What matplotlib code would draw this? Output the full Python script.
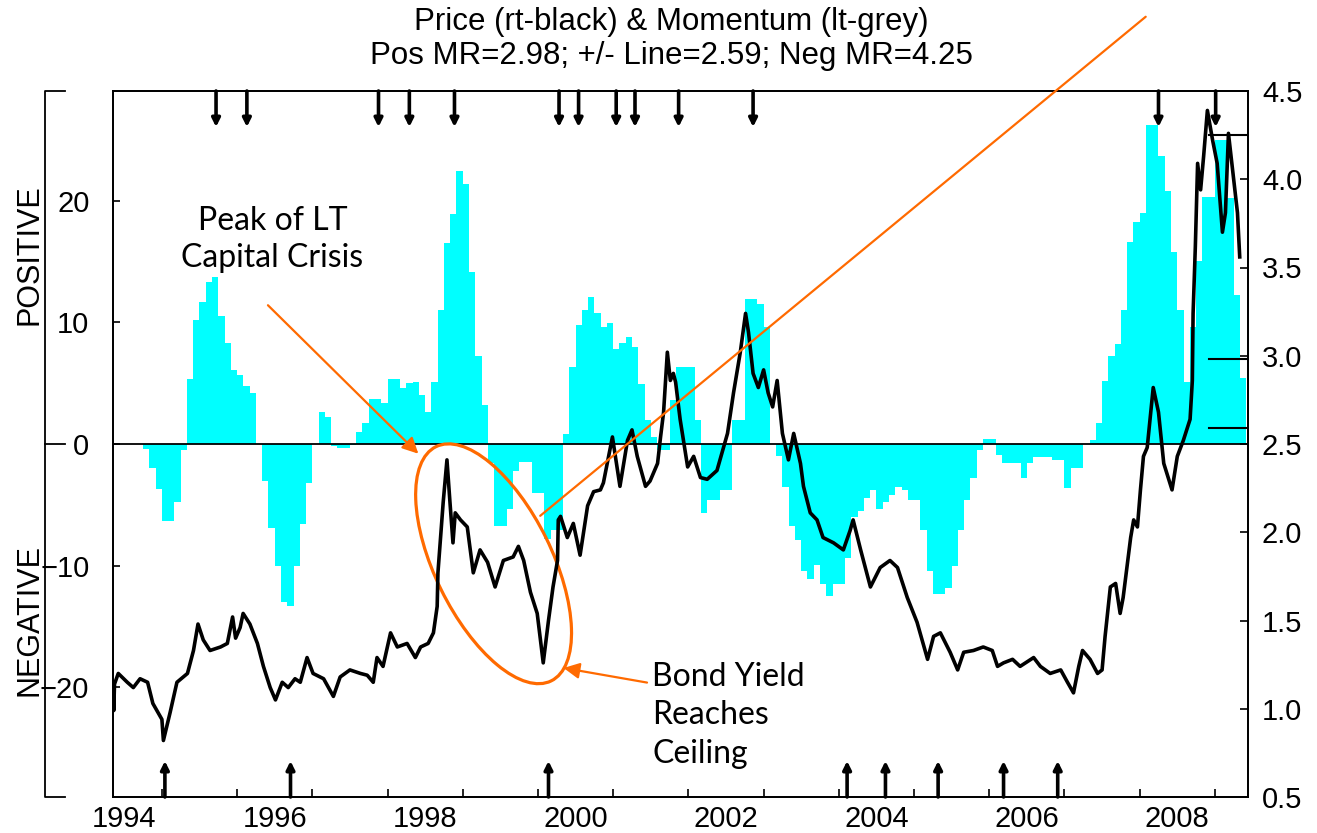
import numpy as np
import matplotlib
matplotlib.use("Agg")
import matplotlib.pyplot as plt
from matplotlib.patches import Ellipse
from matplotlib.transforms import ScaledTranslation, blended_transform_factory

# monthly momentum (left axis), first bar = May 1994
mom_1994 = [0, 0, 0, 0, 0, -0.4, -2.0, -3.7]
mom_1995 = [-6.3, -6.3, -4.8, -0.5, 5.3, 10.2, 11.7, 13.3, 13.7, 10.5, 8.3, 6.1]
mom_1996 = [5.7, 4.8, 4.2, 0, -3.0, -6.9, -10.0, -13.0, -13.3, -10.0, -6.6, -3.2]
mom_1997 = [0, 2.6, 2.2, -0.2, -0.3, -0.3, -0.1, 1.0, 1.7, 3.7, 3.7, 3.4]
mom_1998 = [5.3, 5.3, 4.6, 5.0, 5.1, 4.0, 2.6, 5.1, 11.0, 16.5, 18.9, 22.4]
mom_1999 = [21.4, 14.1, 7.2, 3.2, -1.6, -6.7, -6.7, -5.3, -2.2, -1.5, -1.5, -4.0]
mom_2000 = [-4.0, -7.8, -7.1, -7.1, 0.8, 6.3, 9.8, 11.0, 12.1, 10.8, 9.6, 9.9]
mom_2001 = [7.8, 8.3, 8.8, 8.0, 4.9, 2.0, 0.6, -0.5, -0.5, 3.6, 6.3, 6.3]
mom_2002 = [6.3, 2.0, -5.7, -4.6, -4.6, -3.8, -3.8, 2.0, 2.0, 11.9, 11.9, 11.5]
mom_2003 = [9.6, 0, -1.0, -3.5, -6.7, -7.9, -10.4, -11.1, -9.9, -11.5, -12.5, -11.5]
mom_2004 = [-11.5, -9.4, -6.0, -5.5, -4.4, -3.8, -5.3, -4.8, -4.2, -3.5, -3.8, -4.6]
mom_2005 = [-4.6, -7.1, -10.4, -12.3, -12.3, -11.8, -10.0, -7.1, -4.6, -2.8, -0.5, 0.4]
mom_2006 = [0.4, -0.9, -1.6, -1.6, -1.6, -2.8, -1.6, -1.1, -1.1, -1.1, -1.3, -1.3]
mom_2007 = [-3.6, -2.0, -2.0, 0, 0.3, 1.7, 5.2, 7.2, 8.2, 11.0, 16.6, 18.2]
mom_2008 = [19.0, 26.2, 26.2, 23.7, 20.8, 15.8, 11.0, 5.1, 9.6, 15.0, 20.3, 20.3]
mom_2009 = [25.0, 25.0, 20.2, 12.2, 5.4]

momentum = (mom_1994 + mom_1995 + mom_1996 + mom_1997 + mom_1998 + mom_1999
            + mom_2000 + mom_2001 + mom_2002 + mom_2003 + mom_2004 + mom_2005
            + mom_2006 + mom_2007 + mom_2008 + mom_2009)
month_x = 1994 + (4 + np.arange(len(momentum))) / 12.0

# price (right axis)
price_year = [
    1994.35, 1994.36, 1994.37, 1994.42, 1994.54, 1994.62, 1994.71, 1994.81, 1994.88, 1995.00,
    1995.02, 1995.11, 1995.20, 1995.34, 1995.42, 1995.48, 1995.55, 1995.64, 1995.78, 1995.87,
    1995.94, 1995.98, 1996.04, 1996.08, 1996.17, 1996.27, 1996.35, 1996.44, 1996.51, 1996.60,
    1996.68, 1996.77, 1996.84, 1996.93, 1997.01, 1997.15, 1997.28, 1997.37, 1997.50, 1997.64,
    1997.73, 1997.81, 1997.86, 1997.94, 1998.04, 1998.13, 1998.26, 1998.37, 1998.44, 1998.54,
    1998.61, 1998.66, 1998.67, 1998.70, 1998.74, 1998.79, 1998.83, 1998.87, 1998.90, 1998.97,
    1999.06, 1999.14, 1999.23, 1999.33, 1999.43, 1999.54, 1999.67, 1999.74, 1999.81, 1999.90,
    1999.99, 2000.07, 2000.14, 2000.20, 2000.26, 2000.27, 2000.30, 2000.39, 2000.47, 2000.56,
    2000.66, 2000.74, 2000.83, 2000.87, 2000.99, 2001.05, 2001.09, 2001.19, 2001.25, 2001.32,
    2001.43, 2001.49, 2001.59, 2001.63, 2001.67, 2001.72, 2001.76, 2001.80, 2001.83, 2001.89,
    2001.99, 2002.07, 2002.16, 2002.25, 2002.38, 2002.52, 2002.60, 2002.69, 2002.76, 2002.80,
    2002.86, 2002.93, 2003.00, 2003.06, 2003.12, 2003.18, 2003.25, 2003.33, 2003.40, 2003.49,
    2003.53, 2003.62, 2003.71, 2003.79, 2003.93, 2004.06, 2004.15, 2004.19, 2004.29, 2004.42,
    2004.55, 2004.68, 2004.78, 2004.91, 2005.04, 2005.18, 2005.26, 2005.35, 2005.48, 2005.58,
    2005.66, 2005.79, 2005.92, 2006.04, 2006.11, 2006.19, 2006.31, 2006.41, 2006.59, 2006.68,
    2006.81, 2006.95, 2007.04, 2007.12, 2007.19, 2007.24, 2007.34, 2007.44, 2007.50, 2007.54,
    2007.61, 2007.68, 2007.74, 2007.78, 2007.88, 2007.92, 2007.97, 2008.01, 2008.05, 2008.10,
    2008.18, 2008.25, 2008.32, 2008.43, 2008.50, 2008.58, 2008.67, 2008.70, 2008.71, 2008.74,
    2008.77, 2008.81, 2008.85, 2008.90, 2008.97, 2009.03, 2009.10, 2009.14, 2009.18, 2009.25,
    2009.30, 2009.33,
]
price_level = [
    1.12, 0.99, 1.14, 1.20, 1.15, 1.12, 1.17, 1.15, 1.03, 0.94,
    0.82, 0.98, 1.15, 1.20, 1.33, 1.48, 1.39, 1.33, 1.35, 1.37,
    1.52, 1.40, 1.46, 1.54, 1.48, 1.37, 1.24, 1.12, 1.05, 1.15,
    1.12, 1.17, 1.15, 1.29, 1.20, 1.17, 1.07, 1.18, 1.22, 1.20,
    1.19, 1.15, 1.29, 1.24, 1.43, 1.35, 1.37, 1.29, 1.35, 1.37,
    1.43, 1.58, 1.77, 1.94, 2.17, 2.41, 2.17, 1.94, 2.11, 2.07,
    2.03, 1.77, 1.90, 1.83, 1.69, 1.84, 1.86, 1.92, 1.84, 1.66,
    1.54, 1.26, 1.50, 1.69, 1.84, 2.07, 2.09, 1.97, 2.05, 1.87,
    2.15, 2.23, 2.24, 2.28, 2.54, 2.37, 2.26, 2.52, 2.58, 2.43,
    2.26, 2.29, 2.39, 2.54, 2.68, 3.02, 2.86, 2.90, 2.85, 2.64,
    2.37, 2.43, 2.31, 2.30, 2.35, 2.56, 2.79, 3.02, 3.24, 3.13,
    2.90, 2.82, 2.92, 2.79, 2.71, 2.86, 2.56, 2.41, 2.56, 2.39,
    2.26, 2.11, 2.07, 1.97, 1.94, 1.90, 2.01, 2.07, 1.90, 1.69,
    1.80, 1.84, 1.80, 1.63, 1.49, 1.28, 1.41, 1.43, 1.32, 1.22,
    1.32, 1.33, 1.35, 1.33, 1.24, 1.26, 1.28, 1.24, 1.29, 1.24,
    1.20, 1.22, 1.15, 1.09, 1.24, 1.33, 1.28, 1.20, 1.22, 1.41,
    1.69, 1.71, 1.54, 1.63, 1.97, 2.07, 2.03, 2.24, 2.43, 2.48,
    2.82, 2.68, 2.39, 2.24, 2.43, 2.52, 2.64, 2.86, 3.24, 3.62,
    4.09, 3.94, 4.13, 4.39, 4.22, 4.09, 3.70, 3.81, 4.26, 4.00,
    3.81, 3.56,
]

# signal dates: down arrows on top, up arrows at the bottom
sell_dates = [1995.72, 1996.13, 1997.88, 1998.29, 1998.89, 2000.28, 2000.54,
              2001.04, 2001.29, 2001.87, 2002.86, 2008.25, 2009.01]
buy_dates = [1995.04, 1996.71, 2000.14, 2004.11, 2004.62, 2005.32, 2006.19, 2006.91]

pos_mr = 2.98
pm_line = 2.59
neg_mr = 4.25

CYAN = "#00ffff"
ORANGE = "#ff6a00"

plt.rcParams["font.family"] = ["Liberation Sans", "DejaVu Sans"]

fig = plt.figure(figsize=(13.17, 8.33), dpi=100)
ax = fig.add_axes([113 / 1317, 36 / 833, 1135 / 1317, 706 / 833])

ax.bar(month_x, momentum, width=1 / 12, align="edge", color=CYAN, linewidth=0, zorder=1)
ax.axhline(0, color="black", lw=1.3, zorder=3)

ax.set_yticks([-20, -10, 0, 10, 20])
ax.tick_params(axis="y", direction="in", length=5, width=1.2, pad=17, labelsize=21)
ax.set_xticks(np.arange(1995, 2010))
ax.set_xticklabels([])
ax.set_xticks(np.arange(1994.5, 2009, 2), minor=True)
ax.set_xticklabels([str(y) for y in range(1994, 2009, 2)], minor=True)
ax.tick_params(axis="x", which="major", direction="in", length=6, width=1.2)
ax.tick_params(axis="x", which="minor", length=0, pad=6, labelsize=21)

ax2 = ax.twinx()
ax2.plot(price_year, price_level, color="black", lw=2.6, zorder=2)
for lvl in (neg_mr, pos_mr, pm_line):
    ax2.axhline(lvl, xmin=0.966, xmax=1.0, color="black", lw=1.5)
ax2.set_yticks(np.arange(0.5, 4.51, 0.5))
ax2.set_yticklabels([f"{v:.1f}" for v in np.arange(0.5, 4.51, 0.5)])
ax2.tick_params(axis="y", direction="in", length=6, width=1.2, pad=10, labelsize=21)

for a in (ax, ax2):
    for sp in a.spines.values():
        sp.set_linewidth(1.3)

# outer bracket on the left
bx = (45 - 113) / 1135
tk = 20 / 1135
ax.plot([bx + tk, bx, bx, bx + tk], [1, 1, 0, 0], transform=ax.transAxes,
        color="black", lw=1.3, clip_on=False)
ax.plot([bx, bx + tk], [0.5, 0.5], transform=ax.transAxes,
        color="black", lw=1.3, clip_on=False)

# signal arrows
trans = blended_transform_factory(ax.transData, ax.transAxes)
alen = 36 / 706
for d in sell_dates:
    ax2.annotate("", xy=(d, 1 - alen), xytext=(d, 1.0), xycoords=trans, textcoords=trans,
                 arrowprops=dict(arrowstyle="-|>", color="black", lw=2.6,
                                 mutation_scale=12, shrinkA=0, shrinkB=0))
for d in buy_dates:
    ax2.annotate("", xy=(d, alen), xytext=(d, 0.0), xycoords=trans, textcoords=trans,
                 arrowprops=dict(arrowstyle="-|>", color="black", lw=2.6,
                                 mutation_scale=12, shrinkA=0, shrinkB=0))

# titles and side labels
fig.text(0.51, 1 - 22 / 833, "Price (rt-black) & Momentum (lt-grey)",
         ha="center", va="center", fontsize=22.5)
fig.text(0.51, 1 - 56 / 833,
         f"Pos MR={pos_mr:.2f}; +/- Line={pm_line:.2f}; Neg MR={neg_mr:.2f}",
         ha="center", va="center", fontsize=22.5)
fig.text(30 / 1317, 1 - 255 / 833, "POSITIVE", rotation=90, ha="center", va="center", fontsize=22)
fig.text(30 / 1317, 1 - 620 / 833, "NEGATIVE", rotation=90, ha="center", va="center", fontsize=22)

# annotations
ax2.text(1996.47, 16.8, "Peak of LT\nCapital Crisis", transform=ax.transData,
         ha="center", va="center", fontsize=23, family="Lato", linespacing=1.3)
ax2.annotate("", xy=(1998.41, -0.8), xytext=(1996.41, 11.4),
             xycoords=ax.transData, textcoords=ax.transData,
             arrowprops=dict(arrowstyle="-|>", color=ORANGE, lw=1.6,
                             mutation_scale=24, shrinkA=0, shrinkB=0))
ring = Ellipse((0, 0), 2.61, 1.17, angle=-63.8, fill=False, ec=ORANGE, lw=2.3,
               transform=fig.dpi_scale_trans + ScaledTranslation(1999.41, -9.84, ax.transData))
ax2.add_artist(ring)
ax2.text(2001.52, -22.3, "Bond Yield\nReaches\nCeiling", transform=ax.transData,
         ha="left", va="center", fontsize=23, family="Lato", linespacing=1.35)
ax2.annotate("", xy=(2000.34, -18.4), xytext=(2001.45, -19.6),
             xycoords=ax.transData, textcoords=ax.transData,
             arrowprops=dict(arrowstyle="-|>", color=ORANGE, lw=1.6,
                             mutation_scale=24, shrinkA=0, shrinkB=0))
ax2.annotate("", xy=(2008.08, 35.1), xytext=(2000.03, -5.9),
             xycoords=ax.transData, textcoords=ax.transData, annotation_clip=False,
             arrowprops=dict(arrowstyle="-", color=ORANGE, lw=1.6, shrinkA=0, shrinkB=0))

ax.set_xlim(1994.35, 2009.44)
ax.set_ylim(-29, 29)
ax2.set_ylim(0.5, 4.5)

fig.savefig("out.png", dpi=100)
